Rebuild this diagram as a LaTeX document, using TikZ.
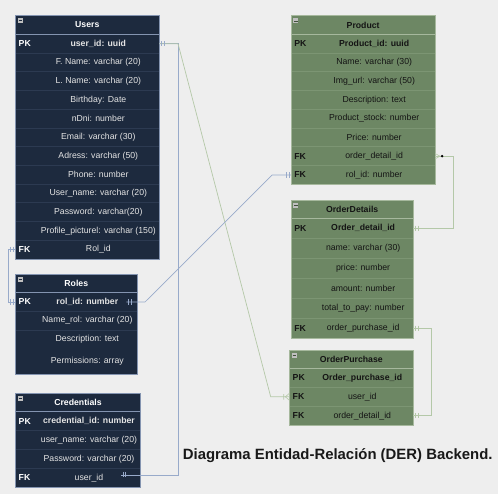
\documentclass[tikz,border=0pt]{standalone}
\usepackage{fontspec}
\setmainfont{Liberation Sans}
\definecolor{bgc}{HTML}{EEEEEE}
\definecolor{dkfill}{HTML}{1D2A3E}
\definecolor{dksep}{HTML}{2C3A51}
\definecolor{dkborder}{HTML}{8494B0}
\definecolor{dktext}{HTML}{E4E4E4}
\definecolor{grfill}{HTML}{6D8764}
\definecolor{grsep}{HTML}{7C9573}
\definecolor{grborder}{HTML}{A6B89D}
\definecolor{grtext}{HTML}{141414}
\definecolor{lnblue}{HTML}{98AACA}
\definecolor{lngreen}{HTML}{B4C8A8}
\definecolor{iconc}{HTML}{BFBFBF}
\newif\ifrowsep \rowseptrue
\tikzset{
  every node/.style={inner sep=0pt, outer sep=0pt},
  dkhead/.style={fill=dkfill},
  dkrow/.style={fill=dkfill},
  dktitle/.style={text=white, font=\fontsize{8.7}{10}\selectfont\bfseries},
  dkkey/.style={text=white, font=\fontsize{8.7}{10}\selectfont\bfseries},
  dktxt/.style={text=dktext, font=\fontsize{8.7}{10}\selectfont},
  dksepl/.style={draw=dksep, line width=0.6pt},
  dkborderl/.style={draw=dkborder, line width=0.7pt},
  dkicon/.style={fill=iconc, minimum width=5pt, minimum height=5pt,
    path picture={\draw[dkfill, line width=0.9pt] ([xshift=0.8pt]path picture bounding box.west) -- ([xshift=-0.8pt]path picture bounding box.east);}},
  grhead/.style={fill=grfill},
  grrow/.style={fill=grfill},
  grtitle/.style={text=grtext, font=\fontsize{8.7}{10}\selectfont\bfseries},
  grkey/.style={text=grtext, font=\fontsize{8.7}{10}\selectfont\bfseries},
  grtxt/.style={text=grtext, font=\fontsize{8.7}{10}\selectfont},
  grsepl/.style={draw=grsep, line width=0.6pt},
  grborderl/.style={draw=grborder, line width=0.7pt},
  gricon/.style={fill=iconc, minimum width=5pt, minimum height=5pt,
    path picture={\draw[grfill!60!black, line width=0.9pt] ([xshift=0.8pt]path picture bounding box.west) -- ([xshift=-0.8pt]path picture bounding box.east);}},
  blueln/.style={draw=lnblue, line width=0.7pt},
  greenln/.style={draw=lngreen, line width=0.7pt},
  markl/.style={line width=0.6pt},
  bigtitle/.style={text=black!90, font=\fontsize{14.9}{17}\selectfont\bfseries},
}
% #1 theme, #2 id, #3 x, #4 y, #5 w, #6 h, #7 title
\newcommand{\erhead}[7]{%
  \node[#1head, anchor=north west, minimum width=#5pt, minimum height=#6pt] (#2) at (#3,#4) {};
  \node[#1title] (#2-t) at (#2.center) {#7};
  \node[#1icon, anchor=north west] (#2-i) at ([xshift=2.4pt,yshift=-2.8pt]#2.north west) {};
}
% #1 theme, #2 id, #3 x, #4 y, #5 w, #6 h, #7 key, #8 text
\newcommand{\errow}[8]{%
  \node[#1row, anchor=north west, minimum width=#5pt, minimum height=#6pt] (#2) at (#3,#4) {};
  \ifrowsep\draw[#1sepl] (#2.north west) -- (#2.north east);\fi
  \node[#1key, anchor=west] (#2-k) at ([xshift=3.4pt]#2.west) {#7};
  \node[#1txt] (#2-t) at ([xshift=11pt]#2.center) {#8};
}
% #1 theme, #2 head id, #3 last row id
\newcommand{\erframe}[3]{%
  \draw[#1borderl] (#2.south west) -- (#2.south east);
  \draw[#1borderl] (#2.north west) rectangle (#3.south east);
}
% #1 point, #2 direction, #3 colour
\newcommand{\erbars}[3]{%
  \draw[#3, markl] ([xshift=#2*2.2pt,yshift=2.6pt]#1) -- ([xshift=#2*2.2pt,yshift=-2.6pt]#1)
    ([xshift=#2*4.9pt,yshift=2.6pt]#1) -- ([xshift=#2*4.9pt,yshift=-2.6pt]#1);
}
\begin{document}
\begin{tikzpicture}[x=1pt,y=-1pt]
\useasboundingbox (0,0) rectangle (498,494);
\fill[bgc] (0,0) rectangle (498,494);

% ---------- Users ----------
\erhead{dk}{uh}{15.3}{15.3}{144}{19}{Users}
\errow{dk}{u1}{15.3}{34.3}{144}{18.72}{PK}{\bfseries user\_id: uuid}
\errow{dk}{u2}{15.3}{53.02}{144}{18.72}{}{F. Name: varchar (20)}
\errow{dk}{u3}{15.3}{71.74}{144}{18.72}{}{L. Name: varchar (20)}
\errow{dk}{u4}{15.3}{90.46}{144}{18.72}{}{Birthday: Date}
\errow{dk}{u5}{15.3}{109.18}{144}{18.72}{}{nDni: number}
\errow{dk}{u6}{15.3}{127.9}{144}{18.72}{}{Email: varchar (30)}
\errow{dk}{u7}{15.3}{146.62}{144}{18.72}{}{Adress: varchar (50)}
\errow{dk}{u8}{15.3}{165.34}{144}{18.72}{}{Phone: number}
\errow{dk}{u9}{15.3}{184.06}{144}{18.72}{}{User\_name: varchar (20)}
\errow{dk}{u10}{15.3}{202.78}{144}{18.72}{}{Password: varchar(20)}
\errow{dk}{u11}{15.3}{221.5}{144}{18.72}{}{Profile\_picturel: varchar (150)}
\errow{dk}{u12}{15.3}{240.22}{144}{18.72}{FK}{Rol\_id}
\erframe{dk}{uh}{u12}

% ---------- Roles ----------
\erhead{dk}{rh}{15.3}{274}{122}{18.7}{Roles}
\errow{dk}{r1}{15.3}{292.7}{122}{18.6}{PK}{\bfseries rol\_id: number}
\errow{dk}{r2}{15.3}{311.3}{122}{18.7}{}{Name\_rol: varchar (20)}
\errow{dk}{r3}{15.3}{330}{122}{19}{}{Description: text}
\rowsepfalse
\errow{dk}{r4}{15.3}{349}{122}{25}{}{Permissions: array}
\rowseptrue
\erframe{dk}{rh}{r4}

% ---------- Credentials ----------
\erhead{dk}{ch}{15.3}{393.3}{125.4}{18.4}{Credentials}
\errow{dk}{c1}{15.3}{411.7}{125.4}{18.9}{PK}{\bfseries credential\_id: number}
\errow{dk}{c2}{15.3}{430.6}{125.4}{18.9}{}{user\_name: varchar (20)}
\errow{dk}{c3}{15.3}{449.5}{125.4}{18.9}{}{Password: varchar (20)}
\errow{dk}{c4}{15.3}{468.4}{125.4}{18.9}{FK}{user\_id}
\erframe{dk}{ch}{c4}

% ---------- Product ----------
\erhead{gr}{ph}{291}{15.7}{144.3}{18.6}{Product}
\errow{gr}{p1}{291}{34.3}{144.3}{18.75}{PK}{\bfseries Product\_id: uuid}
\errow{gr}{p2}{291}{53.05}{144.3}{18.75}{}{Name: varchar (30)}
\errow{gr}{p3}{291}{71.8}{144.3}{18.75}{}{Img\_url: varchar (50)}
\errow{gr}{p4}{291}{90.55}{144.3}{18.75}{}{Description: text}
\errow{gr}{p5}{291}{109.3}{144.3}{18.75}{}{Product\_stock: number}
\errow{gr}{p6}{291}{128.05}{144.3}{18.75}{}{Price: number}
\errow{gr}{p7}{291}{146.8}{144.3}{18.75}{FK}{order\_detail\_id}
\errow{gr}{p8}{291}{165.55}{144.3}{18.75}{FK}{rol\_id: number}
\erframe{gr}{ph}{p8}

% ---------- OrderDetails ----------
\erhead{gr}{dh}{291}{200}{122.3}{18.3}{OrderDetails}
\errow{gr}{d1}{291}{218.3}{122.3}{20}{PK}{\bfseries Order\_detail\_id}
\errow{gr}{d2}{291}{238.3}{122.3}{20}{}{name: varchar (30)}
\errow{gr}{d3}{291}{258.3}{122.3}{20}{}{price: number}
\errow{gr}{d4}{291}{278.3}{122.3}{20}{}{amount: number}
\errow{gr}{d5}{291}{298.3}{122.3}{20}{}{total\_to\_pay: number}
\errow{gr}{d6}{291}{318.3}{122.3}{20}{FK}{order\_purchase\_id}
\erframe{gr}{dh}{d6}

% ---------- OrderPurchase ----------
\erhead{gr}{oh}{289.3}{350}{124}{18.3}{OrderPurchase}
\errow{gr}{o1}{289.3}{368.3}{124}{19}{PK}{\bfseries Order\_purchase\_id}
\errow{gr}{o2}{289.3}{387.3}{124}{19}{FK}{user\_id}
\errow{gr}{o3}{289.3}{406.3}{124}{19}{FK}{order\_detail\_id}
\erframe{gr}{oh}{o3}

% ---------- connectors ----------
\coordinate (c4e) at ([xshift=-20pt,yshift=3pt]c4.east);
\coordinate (r1e) at ([xshift=-11pt]r1.east);

% Users.user_id -> Credentials.user_id
\draw[blueln] (u1.east) -- ++(18.7pt,0pt) |- (c4e);
% Users.user_id -> OrderPurchase.user_id
\draw[greenln] (u1.east) -- ++(18.7pt,0pt) -- ([xshift=-18.6pt]o2.west) -- (o2.west);
% Users.Rol_id -> Roles.rol_id
\draw[blueln] (u12.west) -- ++(-7pt,0pt) |- (r1.west);
% Roles.rol_id -> Product.rol_id
\draw[blueln] (r1e) -- ++(18.7pt,0pt) -- ([xshift=-18.7pt]p8.west) -- (p8.west);
% Product.order_detail_id -> OrderDetails.Order_detail_id
\draw[greenln] (p7.east) -- ++(18pt,0pt) |- (d1.east);
% OrderDetails.order_purchase_id -> OrderPurchase.order_detail_id
\draw[greenln] (d6.east) -- ++(18.4pt,0pt) |- (o3.east);

% markers
\erbars{u1.east}{1}{lnblue}
\erbars{c4e}{1}{lnblue}
\erbars{u12.west}{-1}{lnblue}
\erbars{r1.west}{-1}{lnblue}
\erbars{r1e}{1}{lnblue}
\erbars{p8.west}{-1}{lnblue}
\erbars{d1.east}{1}{lngreen}
\erbars{d6.east}{1}{lngreen}
\erbars{o3.east}{1}{lngreen}
\draw[lngreen, markl] ([xshift=-4pt]o2.west) -- ([yshift=3.4pt]o2.west)
  ([xshift=-4pt]o2.west) -- ([yshift=-3.4pt]o2.west)
  ([xshift=-5.6pt,yshift=2.8pt]o2.west) -- ([xshift=-5.6pt,yshift=-2.8pt]o2.west);
\draw[lngreen, markl] ([yshift=2.6pt]p7.east) -- ([xshift=4.6pt]p7.east) -- ([yshift=-2.6pt]p7.east);
\fill[black] ([xshift=6.8pt]p7.east) circle (1.4pt);

% title
\node[bigtitle] (ttl) at (337.7,455.5) {Diagrama Entidad-Relación (DER) Backend.};
\end{tikzpicture}
\end{document}
